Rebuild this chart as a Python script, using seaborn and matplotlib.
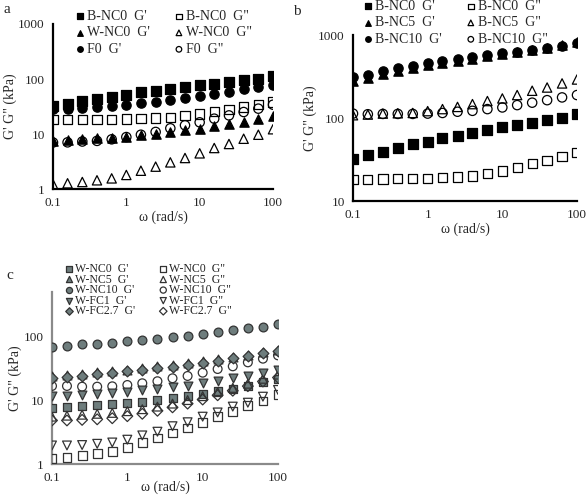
import numpy as np
import pandas as pd
import matplotlib
matplotlib.use("Agg")
import matplotlib.pyplot as plt
import seaborn as sns

# angular frequency (rad/s), 5 points per decade
omega = [0.1, 0.158, 0.251, 0.398, 0.631, 1.0, 1.58, 2.51, 3.98, 6.31,
         10.0, 15.8, 25.1, 39.8, 63.1, 100.0]

# panel a / b / c values (kPa)
b_nc0_gp = [32, 35.5, 39, 44, 48, 52, 57.5, 61.5, 66, 71, 77, 82, 87.5, 94, 101, 112]
b_nc0_gpp = [18.3, 18.3, 18.4, 18.6, 18.6, 18.8, 19.1, 19.5, 20.0, 21.4, 23.0, 25.3, 28.2, 31.0, 34.6, 38.3]
w_nc0_gp = [7.6, 7.8, 8.1, 8.3, 8.6, 9.0, 9.4, 10.1, 10.9, 11.6, 12.5, 13.7, 15.1, 16.8, 18.9, 21.0]
w_nc0_gpp = [1.22, 1.27, 1.34, 1.44, 1.56, 1.8, 2.15, 2.55, 3.05, 3.66, 4.45, 5.56, 6.58, 8.2, 9.7, 12.2]
f0_gp = [28.5, 28, 29.3, 31, 32, 34, 36, 38.7, 41.5, 44.5, 48.4, 52.6, 58, 65, 71.6, 79]
f0_gpp = [7.0, 7.05, 7.3, 7.5, 8.0, 8.8, 9.7, 10.9, 12.7, 14.4, 16.3, 19.0, 21.8, 25.1, 28.9, 34.1]

b_nc5_gp = [280, 305, 340, 370, 400, 435, 460, 490, 520, 555, 590, 625, 660, 700, 760, 830]
b_nc5_gpp = [108, 110, 113, 114, 115, 121, 128, 136, 147, 160, 172, 189, 213, 233, 261, 291]
b_nc10_gp = [308, 332, 367, 396, 426, 463, 490, 518, 542, 574, 601, 629, 659, 690, 736, 793]
b_nc10_gpp = [113, 111, 112, 112, 112, 113, 115, 119, 122, 128, 134, 143, 153, 164, 177, 189]

w_nc5_gp = [23.5, 24.8, 26, 27.3, 28.3, 30, 31.5, 33.5, 35.2, 37.8, 40.5, 44, 47.5, 51.5, 56, 61]
w_nc5_gpp = [5.5, 5.7, 5.9, 6.1, 6.3, 6.7, 7.2, 7.9, 8.8, 10.0, 11.5, 13.3, 15.5, 18.0, 21.5, 25.0]
w_nc10_gp = [68, 71, 74, 76, 79, 83, 87, 91, 98, 102, 109, 117, 124, 135, 141, 154]
w_nc10_gpp = [16.6, 16.6, 16.2, 16.2, 16.4, 17.2, 18.3, 19.7, 21.9, 23.8, 26.8, 30.6, 33.7, 38.9, 44.4, 50.0]
w_fc1_gp = [11.6, 11.7, 12.0, 12.5, 12.8, 13.4, 14.2, 14.7, 15.9, 16.8, 18.3, 20.1, 21.9, 24.1, 26.8, 29.5]
w_fc1_gpp = [1.95, 1.95, 1.98, 2.07, 2.17, 2.4, 2.8, 3.2, 3.9, 4.5, 5.5, 6.4, 7.9, 9.1, 11.3, 14.4]
w_fc27_gp = [22, 23, 24.2, 25.5, 26.5, 28, 29.5, 31.3, 33, 35.5, 38, 41.5, 45, 49, 53.5, 58]
w_fc27_gpp = [4.8, 4.8, 4.9, 5.0, 5.2, 5.6, 6.1, 6.8, 7.7, 8.8, 10.2, 11.9, 14.0, 16.5, 19.5, 22.5]

x_ticks = [0.1, 1, 10, 100]
x_ticklabels = ["0.1", "1", "10", "100"]

sns.set_style("white")
plt.rcParams['font.family'] = ['Liberation Serif', 'DejaVu Serif']

BLACK = "black"
GRAY = "#6e7d7d"
DARK = "#333333"


def draw_series(ax, series, size):
    for label, vals, marker, fill, edge in series:
        df = pd.DataFrame({"omega": omega, "G": vals})
        s = size * (0.75 if marker == "D" else 1.0)
        sns.scatterplot(data=df, x="omega", y="G", ax=ax, marker=marker,
                        s=s, facecolor=fill, edgecolor=edge, linewidth=0.9,
                        label=label, legend=False, zorder=3)


def style_axis(ax, ylim, yticks, spine_color, xpad=1):
    ax.set_xscale("log")
    ax.set_yscale("log")
    ax.set_xlim(0.1, 100)
    ax.set_ylim(*ylim)
    ax.set_xticks(x_ticks)
    ax.set_xticklabels(x_ticklabels)
    ax.set_yticks(yticks)
    ax.set_yticklabels([str(t) for t in yticks])
    ax.minorticks_off()
    ax.tick_params(length=0, labelsize=9.5, pad=6)
    for side in ["top", "right"]:
        ax.spines[side].set_visible(False)
    for side in ["left", "bottom"]:
        ax.spines[side].set_color(spine_color)
        ax.spines[side].set_linewidth(1.6)
    ax.set_xlabel("ω (rad/s)", fontsize=10, labelpad=xpad)
    ax.set_ylabel("G' G\" (kPa)", fontsize=10, labelpad=1)
    ax.patch.set_alpha(0)


def row_legend(ax, x, y, **kw):
    # series alternate G' / G''; put G' in the left column, G'' in the right
    handles, labels = ax.get_legend_handles_labels()
    handles = handles[0::2] + handles[1::2]
    labels = labels[0::2] + labels[1::2]
    opts = dict(ncol=2, frameon=False, fontsize=10, markerscale=0.6,
                handletextpad=0.0, columnspacing=1.6, labelspacing=0.25,
                handlelength=1.0, borderaxespad=0, borderpad=0,
                loc="upper left", bbox_to_anchor=(x / W, 1 - y / H),
                bbox_transform=fig.transFigure)
    opts.update(kw)
    ax.legend(handles, labels, **opts)


fig = plt.figure(figsize=(5.87, 4.98), dpi=100)
W, H = 587.0, 498.0


def add_axes(x0, x1, ytop, ybot):
    return fig.add_axes([x0 / W, 1 - ybot / H, (x1 - x0) / W, (ybot - ytop) / H])


# ---- panel a
ax_a = add_axes(53, 273, 24, 189)
series_a = [
    ("B-NC0  G'", b_nc0_gp, "s", BLACK, BLACK),
    ("B-NC0  G\"", b_nc0_gpp, "s", "none", BLACK),
    ("W-NC0  G'", w_nc0_gp, "^", BLACK, BLACK),
    ("W-NC0  G\"", w_nc0_gpp, "^", "none", BLACK),
    ("F0  G'", f0_gp, "o", BLACK, BLACK),
    ("F0  G\"", f0_gpp, "o", "none", BLACK),
]
draw_series(ax_a, series_a, 45)
style_axis(ax_a, (1, 1000), [1, 10, 100, 1000], BLACK)

# ---- panel b
ax_b = add_axes(353, 577, 35, 201)
series_b = [
    ("B-NC0  G'", b_nc0_gp, "s", BLACK, BLACK),
    ("B-NC0  G\"", b_nc0_gpp, "s", "none", BLACK),
    ("B-NC5  G'", b_nc5_gp, "^", BLACK, BLACK),
    ("B-NC5  G\"", b_nc5_gpp, "^", "none", BLACK),
    ("B-NC10  G'", b_nc10_gp, "o", BLACK, BLACK),
    ("B-NC10  G\"", b_nc10_gpp, "o", "none", BLACK),
]
draw_series(ax_b, series_b, 45)
style_axis(ax_b, (10, 1000), [10, 100, 1000], BLACK)

# ---- panel c
ax_c = add_axes(52, 278, 292, 464)
series_c = [
    ("W-NC0  G'", w_nc0_gp, "s", GRAY, DARK),
    ("W-NC0  G\"", w_nc0_gpp, "s", "none", DARK),
    ("W-NC5  G'", w_nc5_gp, "^", GRAY, DARK),
    ("W-NC5  G\"", w_nc5_gpp, "^", "none", DARK),
    ("W-NC10  G'", w_nc10_gp, "o", GRAY, DARK),
    ("W-NC10  G\"", w_nc10_gpp, "o", "none", DARK),
    ("W-FC1  G'", w_fc1_gp, "v", GRAY, DARK),
    ("W-FC1  G\"", w_fc1_gpp, "v", "none", DARK),
    ("W-FC2.7  G'", w_fc27_gp, "D", GRAY, DARK),
    ("W-FC2.7  G\"", w_fc27_gpp, "D", "none", DARK),
]
draw_series(ax_c, series_c, 40)
style_axis(ax_c, (1, 10 ** 2.69), [1, 10, 100], "#8a8a8a", xpad=-3)

row_legend(ax_a, 73, 10)
row_legend(ax_b, 361, 0)
row_legend(ax_c, 63, 263, fontsize=8.5, markerscale=0.7,
           labelspacing=-0.12, columnspacing=1.9)

# panel letters
fig.text(4 / W, 1 - 3 / H, "a", fontsize=11, va="top")
fig.text(293 / W, 1 - 5 / H, "b", fontsize=11, va="top")
fig.text(6 / W, 1 - 269 / H, "c", fontsize=11, va="top")

fig.savefig("out.png", dpi=100)
